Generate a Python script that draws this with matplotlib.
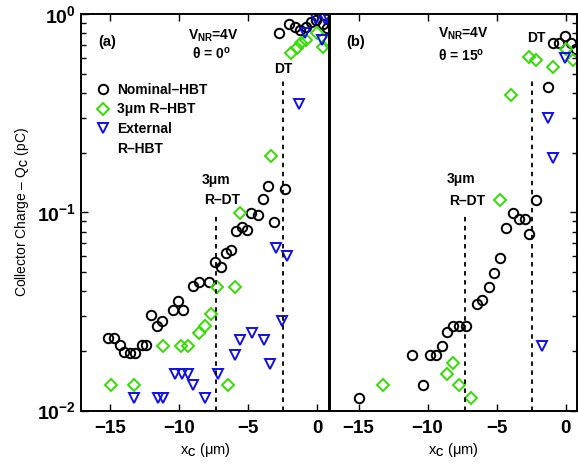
import numpy as np
import matplotlib
matplotlib.use('Agg')
from matplotlib import pyplot as plt
from matplotlib.lines import Line2D

plt.rcParams['font.family'] = ['Liberation Sans', 'DejaVu Sans']
plt.rcParams['font.weight'] = 'bold'
plt.rcParams['mathtext.fontset'] = 'custom'
plt.rcParams['mathtext.rm'] = 'Liberation Sans:bold'
plt.rcParams['mathtext.bf'] = 'Liberation Sans:bold'
plt.rcParams['mathtext.it'] = 'Liberation Sans:bold'

# panel (a), theta = 0
xa_nom = [-15.1, -14.7, -14.3, -14.0, -13.55, -13.15, -12.7, -12.35, -12.0, -11.6,
          -11.2, -10.45, -10.05, -9.7, -8.95, -8.55, -7.8, -7.4, -6.95, -6.6,
          -6.2, -5.85, -5.45, -5.05, -4.75, -4.25, -3.9, -3.55, -3.1, -2.3,
          -2.75, -2.0, -1.6, -1.25, -0.8, -0.45, -0.05, 0.45, 0.75]
ya_nom = [0.0232, 0.0232, 0.0215, 0.0197, 0.0195, 0.0195, 0.0213, 0.0213, 0.0304, 0.0267,
          0.0284, 0.0322, 0.0358, 0.0322, 0.0426, 0.0446, 0.0446, 0.0559, 0.0533, 0.0622,
          0.0644, 0.0807, 0.0844, 0.0812, 0.0989, 0.0966, 0.1175, 0.1356, 0.0893, 0.1305,
          0.805, 0.898, 0.863, 0.831, 0.863, 0.915, 0.933, 0.898, 0.848]
xa_r = [-14.95, -13.25, -11.15, -9.85, -9.35, -8.55, -8.1, -7.7, -7.25, -5.95,
        -6.45, -5.55, -3.35, -1.85, -1.45, -1.15, -0.8, 0.0, 0.45, 0.8]
ya_r = [0.0135, 0.0135, 0.0211, 0.0211, 0.0211, 0.0247, 0.0268, 0.0307, 0.0418, 0.0418,
        0.0135, 0.0996, 0.193, 0.635, 0.673, 0.713, 0.746, 0.80, 0.685, 0.726]
xa_e = [-13.25, -11.55, -11.15, -10.3, -9.8, -9.35, -8.95, -8.1, -7.2, -5.95,
        -5.55, -4.7, -3.85, -3.4, -2.55, -2.95, -2.15, -1.3, -0.85, -0.05,
        0.35, 0.6, 0.9]
ya_e = [0.0115, 0.0115, 0.0115, 0.0153, 0.0153, 0.0153, 0.0134, 0.0115, 0.0153, 0.0191,
        0.0227, 0.0247, 0.0227, 0.0172, 0.0284, 0.0659, 0.0603, 0.353, 0.80, 0.952,
        0.74, 0.952, 0.933]

# panel (b), theta = 15
xb_nom = [-15.0, -11.1, -10.3, -9.85, -9.4, -8.95, -8.6, -8.15, -7.7, -7.25,
          -6.45, -6.05, -5.55, -5.2, -4.75, -4.3, -3.85, -3.4, -2.95, -2.65,
          -2.15, -1.3, -0.9, -0.5, -0.05, 0.4, 0.75]
yb_nom = [0.0116, 0.0191, 0.0135, 0.0191, 0.0191, 0.0211, 0.0250, 0.0268, 0.0268, 0.0268,
          0.0345, 0.0362, 0.0422, 0.0497, 0.0592, 0.0831, 0.0996, 0.0922, 0.0922, 0.0775,
          0.115, 0.428, 0.713, 0.713, 0.775, 0.713, 0.665]
xb_r = [-13.25, -8.6, -8.15, -7.75, -6.85, -4.75, -3.95, -2.65, -2.15, -0.9, 0.0, 0.5]
yb_r = [0.0135, 0.0153, 0.0174, 0.0135, 0.0116, 0.116, 0.392, 0.606, 0.587, 0.544, 0.665, 0.587]
xb_e = [-1.75, -1.3, -0.9, -0.05]
yb_e = [0.0211, 0.299, 0.188, 0.599]

# dashed guide lines: 3um R-DT and DT edges
dt_x = [-7.3, -2.45]
dt_top = [0.099, 0.466]

xticks = [-15, -10, -5, 0]
green = '#33dd00'
blue = '#1010e6'


def style(ax, right):
    ax.set_yscale('log')
    ax.set_xlim(-17.07, 0.85)
    ax.set_ylim(1e-2, 1)
    ax.set_xticks(xticks)
    ax.set_xticklabels(['\u221215', '\u221210', '\u22125', '0'])
    for s in ax.spines.values():
        s.set_linewidth(1.4)
    ax.tick_params(axis='x', which='both', direction='in', top=True, bottom=True,
                   length=5, width=1, labelsize=13.5, pad=7)
    ax.tick_params(axis='y', which='major', direction='in', length=5, width=1,
                   labelsize=14, pad=4, left=not right, right=right, labelleft=not right)
    ax.tick_params(axis='y', which='minor', direction='in', length=3.5, width=1,
                   left=not right, right=right)
    ax.set_xlabel('x$_\\mathrm{C}$ (\u03bcm)', fontsize=10.5, labelpad=3)


def draw(ax, xn, yn, xr, yr, xe, ye):
    ax.plot(xn, yn, 'o', ms=6.8, mfc='none', mec='black', mew=1.4, clip_on=False)
    ax.plot(xr, yr, 'D', ms=5.8, mfc='none', mec=green, mew=1.4, clip_on=False)
    ax.plot(xe, ye, 'v', ms=7.5, mfc='none', mec=blue, mew=1.4, clip_on=False)
    for x, t in zip(dt_x, dt_top):
        ax.plot([x, x], [1e-2, t], color='black', lw=1.3, ls=(0, (2.5, 2.5)))


fig = plt.figure(figsize=(5.78, 4.69), dpi=100)
ax1 = fig.add_axes([81.3 / 578, 1 - 410.5 / 469, 247.4 / 578, 396.2 / 469])
ax2 = fig.add_axes([330 / 578, 1 - 410.5 / 469, 247.4 / 578, 396.2 / 469])

draw(ax1, xa_nom, ya_nom, xa_r, ya_r, xa_e, ya_e)
draw(ax2, xb_nom, yb_nom, xb_r, yb_r, xb_e, yb_e)
style(ax1, False)
style(ax2, True)
ax2.set_yticklabels([], minor=True)
ax1.set_ylabel('Collector Charge \u2013 Q$_\\mathrm{C}$ (pC)', fontsize=10, labelpad=4)

fs = 10
ax1.text(0.104, 0.930, '(a)', transform=ax1.transAxes, ha='center', va='center', fontsize=10.5)
ax1.text(0.535, 0.945, 'V$_\\mathrm{NR}$=4V', transform=ax1.transAxes, ha='center', va='center', fontsize=fs)
ax1.text(0.525, 0.901, '\u03b8 = 0$^\\mathrm{o}$', transform=ax1.transAxes, ha='center', va='center', fontsize=fs)
ax1.text(0.817, 0.862, 'DT', transform=ax1.transAxes, ha='center', va='center', fontsize=fs)
ax1.text(0.545, 0.582, '3\u03bcm', transform=ax1.transAxes, ha='center', va='center', fontsize=fs)
ax1.text(0.568, 0.531, 'R\u2013DT', transform=ax1.transAxes, ha='center', va='center', fontsize=fs)

ax2.text(0.105, 0.930, '(b)', transform=ax2.transAxes, ha='center', va='center', fontsize=10.5)
ax2.text(0.538, 0.950, 'V$_\\mathrm{NR}$=4V', transform=ax2.transAxes, ha='center', va='center', fontsize=fs)
ax2.text(0.530, 0.897, '\u03b8 = 15$^\\mathrm{o}$', transform=ax2.transAxes, ha='center', va='center', fontsize=fs)
ax2.text(0.834, 0.941, 'DT', transform=ax2.transAxes, ha='center', va='center', fontsize=fs)
ax2.text(0.529, 0.584, '3\u03bcm', transform=ax2.transAxes, ha='center', va='center', fontsize=fs)
ax2.text(0.556, 0.529, 'R\u2013DT', transform=ax2.transAxes, ha='center', va='center', fontsize=fs)

handles = [Line2D([], [], ls='none', marker='o', ms=6.8, mfc='none', mec='black', mew=1.4),
           Line2D([], [], ls='none', marker='D', ms=5.8, mfc='none', mec=green, mew=1.4),
           Line2D([], [], ls='none', marker='v', ms=7.5, mfc='none', mec=blue, mew=1.4),
           Line2D([], [], ls='none')]
labels = ['Nominal\u2013HBT', '3\u03bcm R\u2013HBT', 'External', 'R\u2013HBT']
ax1.legend(handles, labels, loc='upper left', bbox_to_anchor=(0.059, 0.827), frameon=False,
           handlelength=1.0, handletextpad=0.5, labelspacing=0.4, borderpad=0,
           borderaxespad=0, prop={'size': 10, 'weight': 'bold'})

fig.savefig('out.png', dpi=100)
